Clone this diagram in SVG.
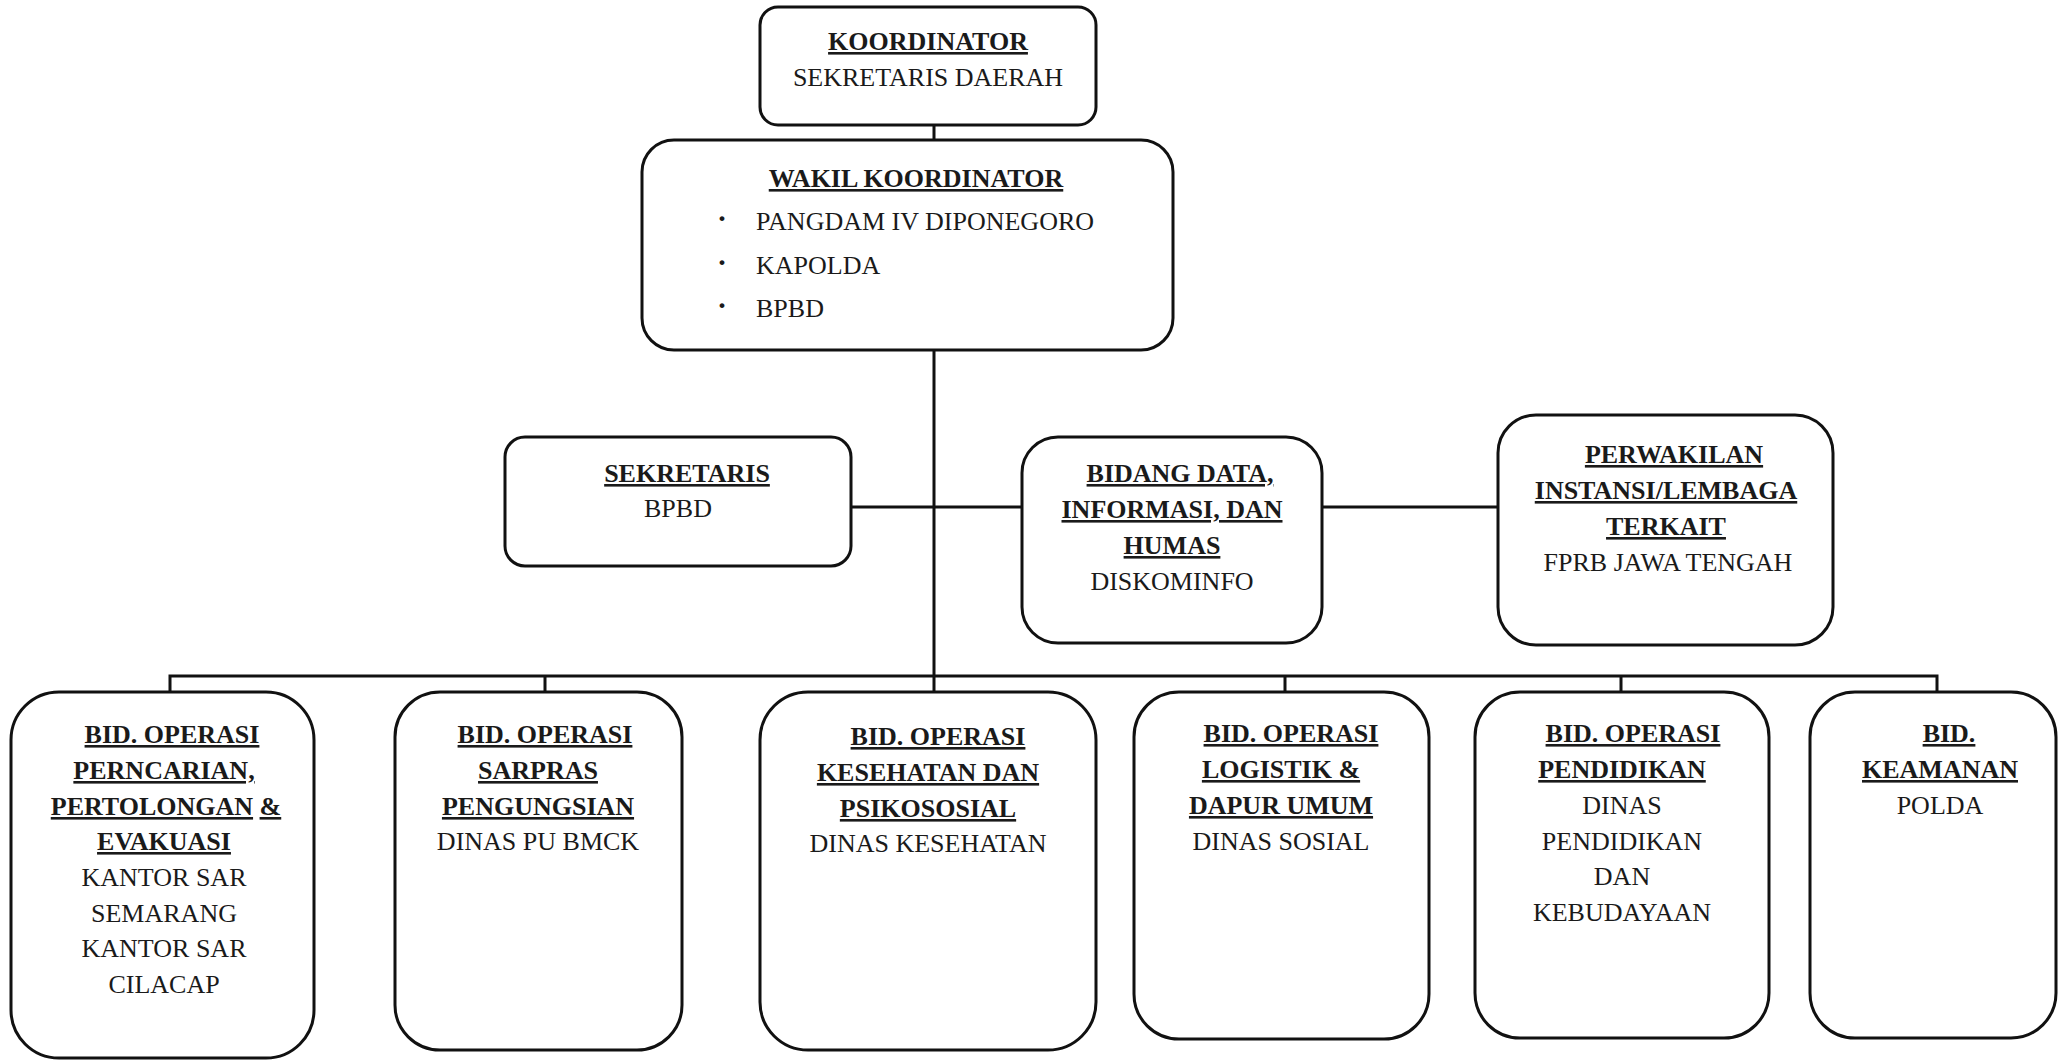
<svg xmlns="http://www.w3.org/2000/svg" width="2058" height="1062" viewBox="0 0 2058 1062">
<style>
.box{fill:#fff;stroke:#111;stroke-width:3}
.ln{stroke:#111;stroke-width:3;fill:none}
text{font-family:"Liberation Serif",serif;font-size:26px;fill:#1a1a1a;text-anchor:middle}
.b{font-weight:bold;text-decoration:underline}
.l{text-anchor:start}
.dot{font-weight:bold;font-size:30px}
</style>
<rect width="2058" height="1062" fill="#fff"/>
<g id="connectors">
<path class="ln" d="M934 125V140M934 350V676M851 507H1022M1322 507H1498M170 692V676H1937V692M545 676V692M934 676V692M1285 676V692M1621 676V692"/>
</g>
<g id="n-koordinator">
<rect class="box" x="760" y="7" width="336" height="118" rx="18"/>
<text class="b" x="928" y="50">KOORDINATOR</text>
<text x="928" y="86">SEKRETARIS DAERAH</text>
</g>
<g id="n-wakil">
<rect class="box" x="642" y="140" width="531" height="210" rx="32"/>
<text class="b" x="916" y="187">WAKIL KOORDINATOR</text>
<text class="l dot" x="717" y="228">·</text>
<text class="l" x="756" y="230">PANGDAM IV DIPONEGORO</text>
<text class="l dot" x="717" y="272">·</text>
<text class="l" x="756" y="274">KAPOLDA</text>
<text class="l dot" x="717" y="315">·</text>
<text class="l" x="756" y="317">BPBD</text>
</g>
<g id="n-sekretaris">
<rect class="box" x="505" y="437" width="346" height="129" rx="20"/>
<text class="b" x="687" y="482">SEKRETARIS</text>
<text x="678" y="517">BPBD</text>
</g>
<g id="n-bidang-data">
<rect class="box" x="1022" y="437" width="300" height="206" rx="36"/>
<text class="b" x="1180" y="482">BIDANG DATA,</text>
<text class="b" x="1172" y="518">INFORMASI, DAN</text>
<text class="b" x="1172" y="554">HUMAS</text>
<text x="1172" y="590">DISKOMINFO</text>
</g>
<g id="n-perwakilan">
<rect class="box" x="1498" y="415" width="335" height="230" rx="38"/>
<text class="b" x="1674" y="463">PERWAKILAN</text>
<text class="b" x="1666" y="499">INSTANSI/LEMBAGA</text>
<text class="b" x="1666" y="535">TERKAIT</text>
<text x="1668" y="571">FPRB JAWA TENGAH</text>
</g>
<g id="n-bid-sar">
<rect class="box" x="11" y="692" width="303" height="366" rx="48"/>
<text class="b" x="172" y="743">BID. OPERASI</text>
<text class="b" x="164" y="779">PERNCARIAN,</text>
<text x="166" y="815"><tspan class="b">PERTOLONGAN</tspan> <tspan class="b">&amp;</tspan></text>
<text class="b" x="164" y="850">EVAKUASI</text>
<text x="164" y="886">KANTOR SAR</text>
<text x="164" y="922">SEMARANG</text>
<text x="164" y="957">KANTOR SAR</text>
<text x="164" y="993">CILACAP</text>
</g>
<g id="n-bid-sarpras">
<rect class="box" x="395" y="692" width="287" height="358" rx="45"/>
<text class="b" x="545" y="743">BID. OPERASI</text>
<text class="b" x="538" y="779">SARPRAS</text>
<text class="b" x="538" y="815">PENGUNGSIAN</text>
<text x="538" y="850">DINAS PU BMCK</text>
</g>
<g id="n-bid-kesehatan">
<rect class="box" x="760" y="692" width="336" height="358" rx="48"/>
<text class="b" x="938" y="745">BID. OPERASI</text>
<text class="b" x="928" y="781">KESEHATAN DAN</text>
<text class="b" x="928" y="817">PSIKOSOSIAL</text>
<text x="928" y="852">DINAS KESEHATAN</text>
</g>
<g id="n-bid-logistik">
<rect class="box" x="1134" y="692" width="295" height="347" rx="45"/>
<text class="b" x="1291" y="742">BID. OPERASI</text>
<text class="b" x="1281" y="778">LOGISTIK &amp;</text>
<text class="b" x="1281" y="814">DAPUR UMUM</text>
<text x="1281" y="850">DINAS SOSIAL</text>
</g>
<g id="n-bid-pendidikan">
<rect class="box" x="1475" y="692" width="294" height="346" rx="45"/>
<text class="b" x="1633" y="742">BID. OPERASI</text>
<text class="b" x="1622" y="778">PENDIDIKAN</text>
<text x="1622" y="814">DINAS</text>
<text x="1622" y="850">PENDIDIKAN</text>
<text x="1622" y="885">DAN</text>
<text x="1622" y="921">KEBUDAYAAN</text>
</g>
<g id="n-bid-keamanan">
<rect class="box" x="1810" y="692" width="246" height="346" rx="45"/>
<text class="b" x="1949" y="742">BID.</text>
<text class="b" x="1940" y="778">KEAMANAN</text>
<text x="1940" y="814">POLDA</text>
</g>
</svg>
